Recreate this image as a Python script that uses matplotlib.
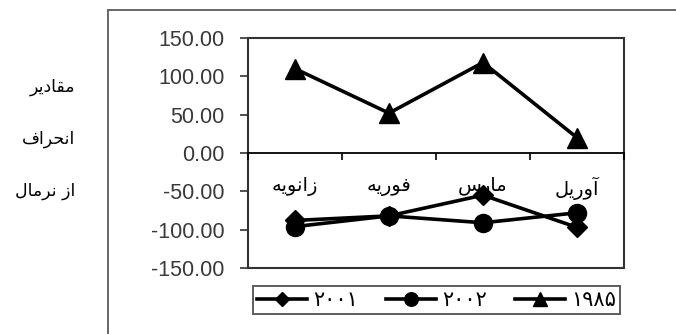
import matplotlib

matplotlib.use("Agg")
import matplotlib.pyplot as plt
import numpy as np
from matplotlib.patches import Rectangle

# monthly departures from normal, three years
MONTHS = ["زانویه", "فوریه", "مارس", "آوریل"]
SERIES_NAMES = ["۲۰۰۱", "۲۰۰۲", "۱۹۸۵"]
Y2001 = [-88, -82, -55, -97]
Y2002 = [-96, -82, -91, -78]
Y1985 = [110, 52, 118, 20]
YTICKS = [-150, -100, -50, 0, 50, 100, 150]
SIDE_LABEL = ["مقادیر", "انحراف", "از نرمال"]

# presentation forms: isolated, final, initial, medial
_FORMS = {
    "ا": ("\uFE8D", "\uFE8E", None, None),
    "آ": ("\uFE81", "\uFE82", None, None),
    "ب": ("\uFE8F", "\uFE90", "\uFE91", "\uFE92"),
    "ح": ("\uFEA1", "\uFEA2", "\uFEA3", "\uFEA4"),
    "د": ("\uFEA9", "\uFEAA", None, None),
    "ر": ("\uFEAD", "\uFEAE", None, None),
    "ز": ("\uFEAF", "\uFEB0", None, None),
    "س": ("\uFEB1", "\uFEB2", "\uFEB3", "\uFEB4"),
    "ف": ("\uFED1", "\uFED2", "\uFED3", "\uFED4"),
    "ق": ("\uFED5", "\uFED6", "\uFED7", "\uFED8"),
    "ل": ("\uFEDD", "\uFEDE", "\uFEDF", "\uFEE0"),
    "م": ("\uFEE1", "\uFEE2", "\uFEE3", "\uFEE4"),
    "ن": ("\uFEE5", "\uFEE6", "\uFEE7", "\uFEE8"),
    "ه": ("\uFEE9", "\uFEEA", "\uFEEB", "\uFEEC"),
    "و": ("\uFEED", "\uFEEE", None, None),
    "ی": ("\uFEF1", "\uFEF2", "\uFEF3", "\uFEF4"),
}


def fa(s):
    """Join Persian letters and put them in left-to-right drawing order."""
    out = []
    for i, ch in enumerate(s):
        f = _FORMS.get(ch)
        if f is None:
            out.append(ch); continue
        prev = s[i - 1] if i > 0 else ""
        nxt = s[i + 1] if i + 1 < len(s) else ""
        pj = prev in _FORMS and _FORMS[prev][2] is not None
        nj = nxt in _FORMS and f[2] is not None
        if pj and nj:
            out.append(f[3])
        elif pj:
            out.append(f[1])
        elif nj:
            out.append(f[2])
        else:
            out.append(f[0])
    return "".join(out)[::-1]


W, H = 676, 334
fig = plt.figure(figsize=(W / 100, H / 100), dpi=100)
fig.patches.append(Rectangle((108 / W, -0.2), 2.0, 1.2 - 10 / H, transform=fig.transFigure,
                             fill=False, ec="#666666", lw=1.4, clip_on=False))

ax = fig.add_axes([248 / W, 1 - 268 / H, (624 - 248) / W, (268 - 38) / H])
x = np.arange(len(MONTHS))
kw = dict(color="black", lw=2.6, mec="black", mfc="black", clip_on=False)
ax.plot(x, Y2001, marker="D", ms=10, label=SERIES_NAMES[0], **kw)
ax.plot(x, Y2002, marker="o", ms=13, label=SERIES_NAMES[1], **kw)
ax.plot(x, Y1985, marker="^", ms=14, label=SERIES_NAMES[2], **kw)

ax.set_xlim(-0.5, len(MONTHS) - 0.5)
ax.set_ylim(-150, 150)
ax.set_yticks(YTICKS, [f"{v:.2f}" for v in YTICKS])
ax.tick_params(axis="y", direction="out", length=6, width=1.2, pad=11, labelsize=15.5,
               labelcolor="#3a3a3a", color="#333333")
for t in ax.get_yticklabels():
    t.set_family("Liberation Sans")

# category axis crosses at zero; the outer box is drawn separately
for side in ("left", "right", "top"):
    ax.spines[side].set_visible(False)
ax.spines["bottom"].set_position(("data", 0))
ax.spines["bottom"].set_linewidth(1.3)
ax.add_patch(Rectangle((0, 0), 1, 1, transform=ax.transAxes, fill=False, ec="#333333", lw=1.5,
                       clip_on=False))
ax.set_xticks(np.arange(len(MONTHS) + 1) - 0.5, [])
ax.tick_params(axis="x", which="major", direction="out", length=5, width=1.2)
ax.set_xticks(x, [fa(m) for m in MONTHS], minor=True)
ax.tick_params(axis="x", which="minor", length=0, pad=17, labelsize=14)
for t in ax.get_xticklabels(minor=True):
    t.set_family("DejaVu Sans")

for k, lab in enumerate(SIDE_LABEL):
    fig.text(75 / W, 1 - (87 + 52 * k) / H, fa(lab), ha="right", va="center",
             fontsize=12.5, family="DejaVu Sans")

leg = ax.legend(loc="center", bbox_to_anchor=(436.5 / W, 1 - 300 / H), bbox_transform=fig.transFigure,
                ncol=3, frameon=True, fancybox=False, edgecolor="#333333",
                handlelength=2.4, columnspacing=1.35, handletextpad=0.3, borderpad=0.2,
                borderaxespad=0.0, prop={"family": "DejaVu Sans", "size": 15})
leg.get_frame().set_linewidth(1.4)
for h in leg.legend_handles:
    h.set_markersize(h.get_markersize() * 0.75)

fig.savefig("out.png", dpi=100)
